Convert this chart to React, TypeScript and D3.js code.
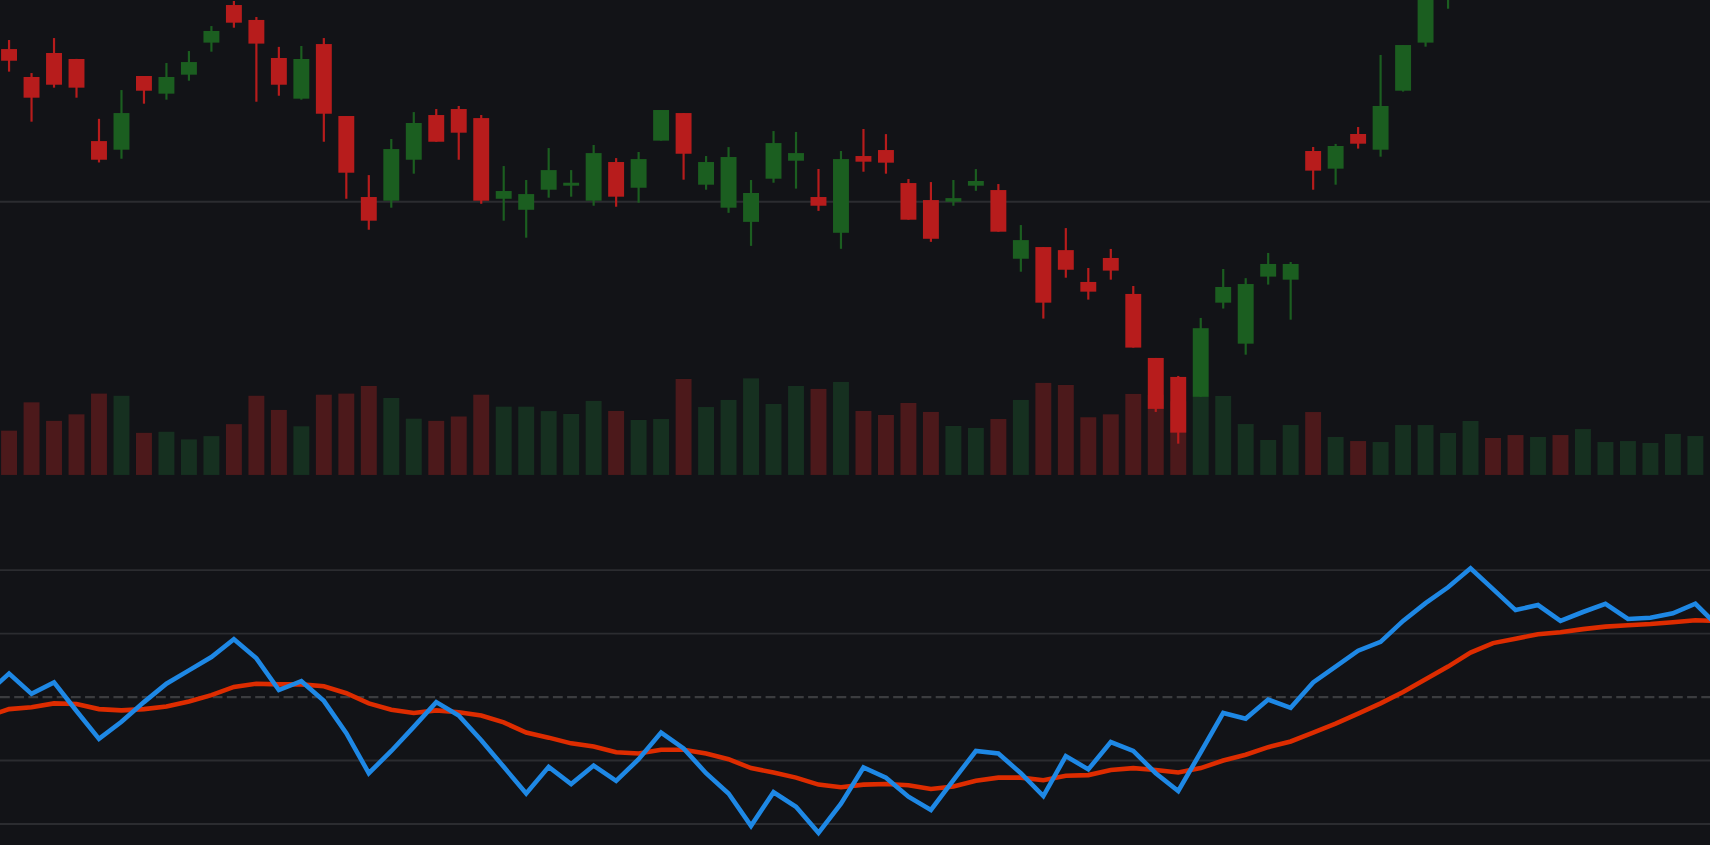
import React from "react";
import * as d3 from "d3";

// viewBox units (chart drawn in a 1568x775 coordinate space, scaled to 1710x845)
const VW = 1568;
const VH = 775;

// ---- candle data (index 0..75) ----
const opens = [
  114.0, 111.44, 113.64, 113.09, 105.56, 104.77, 111.53, 109.91, 111.65, 114.59,
  118.04, 116.67, 113.18, 109.45, 114.46, 107.86, 100.43, 100.09, 103.85, 107.95,
  108.5, 107.67, 100.27, 99.26, 101.1, 101.47, 100.09, 103.64, 101.28, 105.6,
  108.13, 101.56, 99.45, 98.15, 102.11, 103.76, 100.43, 97.15, 104.19, 104.74,
  101.71, 100.15, 100.0, 101.47, 101.07, 94.77, 95.84, 95.56, 92.64, 94.84,
  91.54, 85.67, 83.93, 82.1, 90.74, 86.98, 93.13, 92.85, 104.65, 103.03,
  106.21, 104.77, 110.18, 114.59, 119.1, 123.9, 127.0, 125.3, 123.8, 125.2,
  124.0, 125.5, 126.5, 127.2, 128.0, 129.1,
];
const highs = [
  114.83, 111.8, 115.01, 113.1, 107.6, 110.24, 111.53, 112.72, 113.82, 116.11,
  118.41, 116.94, 114.2, 114.28, 115.01, 107.86, 102.44, 105.75, 108.22, 108.5,
  108.78, 107.95, 103.27, 101.99, 104.92, 102.9, 105.2, 104.0, 104.56, 108.41,
  108.13, 104.19, 105.01, 101.99, 106.48, 106.4, 103.0, 104.65, 106.67, 106.2,
  102.08, 101.8, 101.99, 102.99, 101.62, 97.86, 95.84, 97.58, 93.92, 95.67,
  92.27, 85.67, 84.02, 89.34, 93.83, 92.99, 95.3, 94.47, 105.02, 105.3,
  106.85, 113.46, 114.37, 121.2, 125.0, 128.0, 128.3, 126.0, 126.1, 125.9,
  126.4, 127.3, 128.0, 128.6, 129.9, 130.8,
];
const lows = [
  111.93, 107.34, 110.46, 109.54, 103.6, 103.94, 108.99, 109.36, 111.1, 113.76,
  115.96, 109.17, 109.72, 109.36, 105.5, 100.27, 97.43, 99.45, 102.57, 105.5,
  103.85, 99.81, 98.26, 96.7, 100.37, 100.46, 99.63, 99.54, 99.91, 105.6,
  102.02, 101.1, 98.98, 95.95, 101.74, 101.2, 99.16, 95.68, 102.75, 102.57,
  98.35, 96.32, 99.63, 101.0, 97.25, 93.58, 89.28, 93.03, 91.02, 92.85,
  86.62, 80.72, 77.81, 82.1, 90.2, 85.97, 92.4, 89.18, 101.1, 101.56,
  104.87, 104.13, 110.1, 114.22, 117.7, 123.2, 124.6, 122.9, 123.1, 123.2,
  123.5, 125.0, 125.9, 126.7, 127.5, 128.6,
];
const closes = [
  112.93, 109.54, 110.73, 110.46, 103.85, 108.13, 110.18, 111.44, 112.81, 115.66,
  116.42, 114.5, 110.73, 113.09, 108.07, 102.66, 98.26, 104.83, 107.22, 105.5,
  106.33, 100.09, 100.98, 100.7, 102.9, 101.74, 104.46, 100.46, 103.91, 108.41,
  104.4, 103.64, 104.1, 100.8, 105.38, 104.46, 99.63, 103.91, 103.67, 103.58,
  98.35, 96.6, 100.33, 101.9, 97.25, 96.48, 90.74, 93.76, 91.75, 93.68,
  86.62, 81.0, 78.82, 88.4, 92.18, 92.45, 94.29, 94.29, 102.85, 105.11,
  105.32, 108.78, 114.37, 120.6, 124.3, 127.2, 125.1, 123.6, 125.4, 123.9,
  125.6, 126.7, 127.4, 128.1, 129.3, 130.2,
];
const volumes = [
  406, 666, 496, 556, 746, 726, 386, 396, 326, 356,
  466, 726, 596, 446, 736, 746, 816, 706, 516, 496,
  536, 736, 626, 626, 586, 559, 679, 587, 504, 513,
  880, 623, 688, 886, 651, 816, 789, 853, 587, 550,
  660, 578, 449, 431, 513, 688, 844, 825, 529, 556,
  743, 736, 676, 716, 724, 467, 321, 458, 577, 348,
  311, 302, 458, 458, 385, 495, 339, 366, 348, 366,
  421, 302, 311, 293, 376, 357,
];

// ---- oscillator data (index -1..76, one before and after the visible candles) ----
const rsiFast = [
  50.5, 53.7, 50.5, 52.3, 47.8, 43.4, 46.1, 49.2, 52.1, 54.2, 56.3,
  59.1, 56.1, 51.1, 52.5, 49.4, 44.3, 38.0, 41.5, 45.3, 49.2,
  47.1, 43.2, 39.0, 34.8, 39.0, 36.3, 39.2, 36.8, 40.2, 44.4,
  41.9, 38.0, 34.8, 29.7, 35.0, 32.7, 28.6, 33.2, 38.9, 37.3,
  34.3, 32.2, 36.9, 41.5, 41.1, 38.0, 34.4, 40.7, 38.6, 42.9,
  41.5, 38.0, 35.2, 41.3, 47.5, 46.6, 49.6, 48.3, 52.3, 54.8,
  57.3, 58.7, 62.0, 64.8, 67.3, 70.3, 67.0, 63.7, 64.5, 62.0,
  63.4, 64.7, 62.3, 62.5, 63.2, 64.7, 61.2,
];
const rsiSlow = [
  46.9, 48.1, 48.4, 49.0, 48.9, 48.1, 47.9, 48.1, 48.5, 49.3, 50.3,
  51.6, 52.1, 52.0, 52.0, 51.7, 50.6, 49.0, 48.0, 47.5, 47.9,
  47.6, 47.1, 46.0, 44.4, 43.6, 42.7, 42.2, 41.3, 41.1, 41.7,
  41.7, 41.1, 40.2, 38.8, 38.1, 37.3, 36.2, 35.8, 36.2, 36.3,
  36.1, 35.5, 35.9, 36.8, 37.3, 37.3, 36.9, 37.6, 37.7, 38.5,
  38.8, 38.5, 38.1, 38.8, 40.0, 40.9, 42.1, 43.0, 44.4, 45.8,
  47.4, 49.0, 50.8, 52.8, 54.8, 57.0, 58.5, 59.2, 59.9, 60.2,
  60.7, 61.1, 61.3, 61.5, 61.8, 62.1, 62.0,
];

const priceGridLevels = [100];
const rsiGridLevels = [30, 40, 60, 70];
const rsiMidLevel = 50;

const BG = "#121317";
const GRID = "#2b2c30";
const MID = "#3b3c3f";
const UP = "#1b5e20";
const DOWN = "#b71c1c";
const UP_VOL = "#163020";
const DOWN_VOL = "#4c191b";
const FAST = "#1e88e5";
const SLOW = "#dd2c00";

export default function App() {
  const n = opens.length;
  const x = d3.scaleLinear().domain([0, n - 1]).range([8.3, 1554.6]);
  const yPrice = d3.scaleLinear().domain([118.5, 75]).range([0, 435]);
  const yVol = d3.scaleLinear().domain([0, 1000]).range([435.6, 335.6]);
  const yRsi = d3.scaleLinear().domain([50, 70]).range([639.3, 522.9]);

  const bodyW = 14.6;
  const wickW = 2;

  const line = d3
    .line<number>()
    .x((_, i) => x(i - 1))
    .y((v) => yRsi(v))
    .curve(d3.curveLinear);

  return (
    <svg
      width={1710}
      height={845}
      viewBox={`0 0 ${VW} ${VH}`}
      preserveAspectRatio="none"
      style={{ position: "fixed", left: 0, top: 0, display: "block", background: BG }}
    >
      <rect x={0} y={0} width={VW} height={VH} fill={BG} />
      {priceGridLevels.map((p) => (
        <line key={`pg${p}`} x1={0} x2={VW} y1={yPrice(p)} y2={yPrice(p)} stroke={GRID} strokeWidth={1.7} />
      ))}
      {rsiGridLevels.map((v) => (
        <line key={`rg${v}`} x1={0} x2={VW} y1={yRsi(v)} y2={yRsi(v)} stroke={GRID} strokeWidth={1.7} />
      ))}
      <line
        x1={0}
        x2={VW}
        y1={yRsi(rsiMidLevel)}
        y2={yRsi(rsiMidLevel)}
        stroke={MID}
        strokeWidth={2}
        strokeDasharray="9 4"
      />
      {volumes.map((v, i) => {
        const up = closes[i] >= opens[i];
        return (
          <rect
            key={`v${i}`}
            x={x(i) - bodyW / 2}
            y={yVol(v)}
            width={bodyW}
            height={yVol(0) - yVol(v)}
            fill={up ? UP_VOL : DOWN_VOL}
          />
        );
      })}
      {opens.map((o, i) => {
        const c = closes[i];
        const up = c >= o;
        const col = up ? UP : DOWN;
        const yTop = yPrice(Math.max(o, c));
        const yBot = yPrice(Math.min(o, c));
        return (
          <g key={`c${i}`}>
            <rect x={x(i) - wickW / 2} y={yPrice(highs[i])} width={wickW} height={yPrice(lows[i]) - yPrice(highs[i])} fill={col} />
            <rect x={x(i) - bodyW / 2} y={yTop} width={bodyW} height={Math.max(1, yBot - yTop)} fill={col} />
          </g>
        );
      })}
      <path d={line(rsiSlow) || ""} fill="none" stroke={SLOW} strokeWidth={4.2} strokeLinejoin="miter" />
      <path d={line(rsiFast) || ""} fill="none" stroke={FAST} strokeWidth={4.2} strokeLinejoin="miter" />
    </svg>
  );
}
